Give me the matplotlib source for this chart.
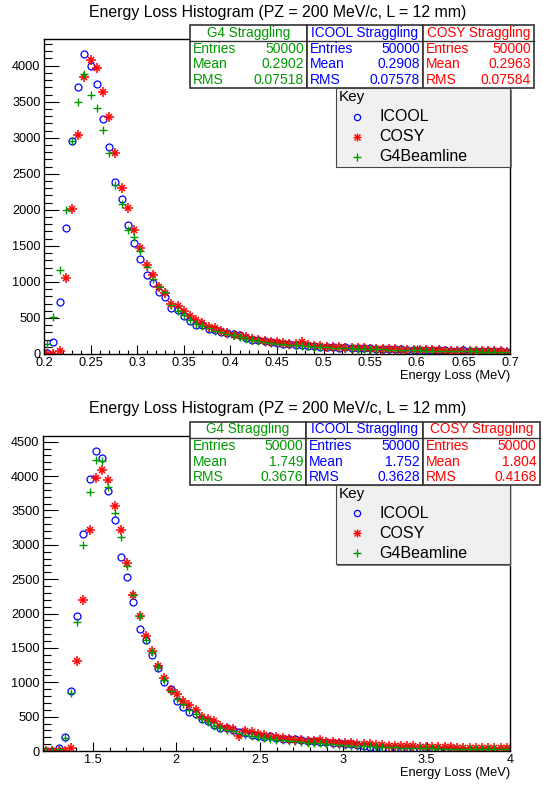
import numpy as np
import matplotlib
matplotlib.use('Agg')
import matplotlib.pyplot as plt
from matplotlib.patches import Rectangle
from matplotlib.ticker import MultipleLocator, FormatStrFormatter

plt.rcParams['font.family'] = ['Liberation Sans', 'DejaVu Sans']

# ---- datos (75 bins en cada panel) ----
# panel superior: 0.2 - 0.7 MeV
rango_sup = (0.2, 0.7)
icool_sup = [10, 172, 721, 1743, 2954, 3707, 4169, 3994, 3745, 3259,
             2875, 2390, 2150, 1784, 1540, 1322, 1100, 979, 860, 790,
             638, 614, 522, 452, 397, 400, 340, 330, 300, 285,
             280, 258, 222, 200, 195, 175, 165, 150, 140, 132,
             125, 122, 110, 105, 100, 104, 95, 88, 92, 85,
             80, 78, 84, 76, 70, 72, 66, 64, 60, 62,
             58, 55, 56, 50, 62, 48, 45, 50, 42, 40,
             44, 38, 36, 38, 34]
cosy_sup = [0, 0, 36, 1049, 2011, 3042, 3842, 4082, 3967, 3634,
            3287, 2788, 2306, 2025, 1720, 1470, 1234, 1090, 924, 850,
            698, 660, 600, 522, 470, 430, 380, 355, 320, 295,
            270, 255, 230, 210, 200, 185, 170, 165, 150, 145,
            140, 165, 118, 112, 108, 104, 100, 94, 90, 86,
            82, 80, 76, 74, 70, 68, 66, 62, 60, 58,
            56, 55, 52, 50, 48, 47, 45, 44, 42, 40,
            40, 38, 36, 35, 34]
g4_sup = [139, 508, 1165, 1992, 2954, 3490, 3883, 3596, 3416, 3107,
          2788, 2348, 2085, 1724, 1623, 1423, 1207, 1044, 929, 860,
          684, 591, 540, 470, 420, 390, 355, 320, 300, 275,
          260, 240, 210, 195, 180, 170, 158, 140, 135, 128,
          120, 115, 108, 100, 98, 92, 90, 86, 82, 78,
          75, 72, 70, 66, 64, 62, 58, 56, 54, 52,
          50, 48, 46, 45, 44, 42, 40, 38, 38, 36,
          34, 34, 32, 30, 30]

# panel inferior: 1.2 - 4.0 MeV
rango_inf = (1.2, 4.0)
icool_inf = [0, 2, 39, 208, 877, 1967, 3159, 3958, 4365, 4268,
             3789, 3358, 2829, 2529, 2166, 1773, 1609, 1390, 1211, 998,
             901, 732, 644, 572, 543, 470, 440, 380, 340, 330,
             300, 280, 262, 240, 225, 210, 215, 190, 180, 170,
             175, 160, 150, 140, 130, 125, 120, 110, 100, 95,
             88, 80, 65, 50, 40, 32, 25, 20, 16, 14,
             12, 10, 9, 8, 8, 7, 6, 6, 5, 5,
             4, 4, 3, 3, 3]
cosy_inf = [0, 0, 0, 0, 48, 1303, 2200, 3217, 3978, 4089,
            3949, 3561, 3212, 2733, 2263, 1957, 1667, 1449, 1235, 1056,
            891, 828, 727, 673, 601, 500, 460, 440, 370, 340,
            320, 215, 290, 270, 250, 240, 210, 200, 185, 175,
            165, 160, 150, 145, 160, 135, 130, 120, 115, 110,
            105, 100, 95, 90, 85, 80, 76, 72, 70, 66,
            64, 60, 58, 56, 54, 52, 50, 48, 46, 45,
            44, 42, 40, 40, 38]
g4_inf = [0, 5, 30, 190, 843, 1875, 3000, 3765, 4234, 4220,
          3847, 3469, 3110, 2699, 2263, 1957, 1609, 1444, 1221, 1037,
          867, 760, 680, 600, 540, 470, 420, 370, 330, 310,
          285, 260, 240, 225, 200, 190, 175, 165, 155, 145,
          140, 130, 120, 115, 110, 100, 95, 90, 85, 80,
          76, 72, 68, 64, 60, 56, 52, 50, 48, 45,
          42, 40, 38, 36, 34, 32, 30, 30, 28, 27,
          26, 25, 24, 23, 22]

# estadisticas de cada caja: (titulo, entries, mean, rms)
stats_sup = [('G4 Straggling', '50000', '0.2902', '0.07518'),
             ('ICOOL Straggling', '50000', '0.2908', '0.07578'),
             ('COSY Straggling', '50000', '0.2963', '0.07584')]
stats_inf = [('G4 Straggling', '50000', '1.749', '0.3676'),
             ('ICOOL Straggling', '50000', '1.752', '0.3628'),
             ('COSY Straggling', '50000', '1.804', '0.4168')]

titulo = 'Energy Loss Histogram (PZ = 200 MeV/c, L = 12 mm)'
AZUL = '#0000ff'
ROJO = '#ff0000'
VERDE = '#009900'
colores_stats = [VERDE, AZUL, ROJO]

W, H = 543, 785
fig = plt.figure(figsize=(W / 100, H / 100), dpi=100)


def fx(x):
    return x / W


def fy(y):
    return 1 - y / H


def graficar_panel(caja, rango, icool, cosy, g4, x_mayor, x_menor):
    izq, arriba, der, abajo = caja
    ax = fig.add_axes([fx(izq), fy(abajo), fx(der - izq), (abajo - arriba) / H])
    n = len(icool)
    bordes = np.linspace(rango[0], rango[1], n + 1)
    centros = 0.5 * (bordes[:-1] + bordes[1:])

    ax.plot(centros, icool, linestyle='none', marker='o', markersize=5,
            markerfacecolor='none', markeredgecolor=AZUL, markeredgewidth=0.9)
    ax.plot(centros, cosy, linestyle='none', marker='+', markersize=6.5,
            color=ROJO, markeredgewidth=1.1)
    ax.plot(centros, cosy, linestyle='none', marker='x', markersize=5,
            color=ROJO, markeredgewidth=1.1)
    ax.plot(centros, g4, linestyle='none', marker='+', markersize=6,
            color=VERDE, markeredgewidth=1.0)

    ymax = 1.05 * max(max(icool), max(cosy), max(g4))
    ax.set_xlim(rango)
    ax.set_ylim(0, ymax)
    ax.xaxis.set_major_locator(MultipleLocator(x_mayor))
    ax.xaxis.set_minor_locator(MultipleLocator(x_menor))
    ax.xaxis.set_major_formatter(FormatStrFormatter('%g'))
    ax.yaxis.set_major_locator(MultipleLocator(500))
    ax.yaxis.set_minor_locator(MultipleLocator(100))
    ax.tick_params(axis='both', which='both', direction='in', top=False, right=False,
                   labelsize=9.2, width=0.8, color='black')
    ax.tick_params(axis='y', which='major', length=11, pad=2.5)
    ax.tick_params(axis='y', which='minor', length=5.5)
    ax.tick_params(axis='x', which='major', length=6.5, pad=2)
    ax.tick_params(axis='x', which='minor', length=3)
    for lado in ax.spines.values():
        lado.set_linewidth(1.0)
    ax.set_xlabel('Energy Loss (MeV)', fontsize=9.3, loc='right', labelpad=1)
    return ax


def cajas_stats(x_bordes, arriba, alto, stats):
    for i, (tit, ent, media, rms) in enumerate(stats):
        x0, x1 = x_bordes[i], x_bordes[i + 1]
        c = colores_stats[i]
        fig.add_artist(Rectangle((fx(x0), fy(arriba + alto)), fx(x1 - x0), alto / H,
                                 transform=fig.transFigure, facecolor='white',
                                 edgecolor='#333333', linewidth=1.2, zorder=5))
        fig.add_artist(plt.Line2D([fx(x0), fx(x1)], [fy(arriba + 15.5)] * 2,
                                  transform=fig.transFigure, color='#333333',
                                  linewidth=1.0, zorder=6))
        fig.text(fx((x0 + x1) / 2), fy(arriba + 7.5), tit, color=c, fontsize=9.8,
                 ha='center', va='center', zorder=7)
        for j, (etq, val) in enumerate([('Entries', ent), ('Mean', media), ('RMS', rms)]):
            yy = fy(arriba + 24.3 + 15.2 * j)
            fig.text(fx(x0 + 3), yy, etq, color=c, fontsize=10, ha='left', va='center', zorder=7)
            fig.text(fx(x1 - 3), yy, val, color=c, fontsize=10, ha='right', va='center', zorder=7)


def leyenda(x0, x1, arriba, abajo):
    # sombra
    fig.add_artist(Rectangle((fx(x0 + 1.5), fy(abajo + 1.5)), fx(x1 - x0), (abajo - arriba) / H,
                             transform=fig.transFigure, facecolor='#777777',
                             edgecolor='none', zorder=4))
    fig.add_artist(Rectangle((fx(x0), fy(abajo)), fx(x1 - x0), (abajo - arriba) / H,
                             transform=fig.transFigure, facecolor='#f0f0f0',
                             edgecolor='#444444', linewidth=0.8, zorder=5))
    fig.text(fx(x0 + 3), fy(arriba + 9), 'Key', fontsize=11, ha='left', va='center', zorder=7)
    filas = [('ICOOL', AZUL, 'o'), ('COSY', ROJO, '*'), ('G4Beamline', VERDE, '+')]
    for j, (nombre, c, m) in enumerate(filas):
        yy = arriba + 28.4 + 20 * j
        xm = fx(357.3)
        if m == 'o':
            fig.add_artist(plt.Line2D([xm], [fy(yy)], transform=fig.transFigure, marker='o',
                                      markersize=4.5, markerfacecolor='none',
                                      markeredgecolor=c, markeredgewidth=0.9, zorder=7))
        elif m == '*':
            for mk, ms in (('+', 6), ('x', 4.5)):
                fig.add_artist(plt.Line2D([xm], [fy(yy)], transform=fig.transFigure, marker=mk,
                                          markersize=ms, color=c, markeredgewidth=1.0, zorder=7))
        else:
            fig.add_artist(plt.Line2D([xm], [fy(yy)], transform=fig.transFigure, marker='+',
                                      markersize=6, color=c, markeredgewidth=1.0, zorder=7))
        fig.text(fx(379.3), fy(yy), nombre, fontsize=11.5, ha='left', va='center', zorder=7)


# panel superior
graficar_panel((44, 38.5, 510, 354), rango_sup, icool_sup, cosy_sup, g4_sup, 0.05, 0.01)
fig.text(fx(277.5), fy(12.3), titulo, fontsize=11.4, ha='center', va='center')
cajas_stats([190, 306.7, 422.7, 534], 25, 62.7, stats_sup)
leyenda(335.7, 510, 88.3, 166.7)

# panel inferior
graficar_panel((43, 436, 510, 751), rango_inf, icool_inf, cosy_inf, g4_inf, 0.5, 0.1)
fig.text(fx(277.5), fy(408.3), titulo, fontsize=11.4, ha='center', va='center')
cajas_stats([189.6, 306.3, 423, 539.6], 422, 62.7, stats_inf)
leyenda(335.7, 509.5, 485, 564)

fig.savefig('out.png', dpi=100, facecolor='white')
